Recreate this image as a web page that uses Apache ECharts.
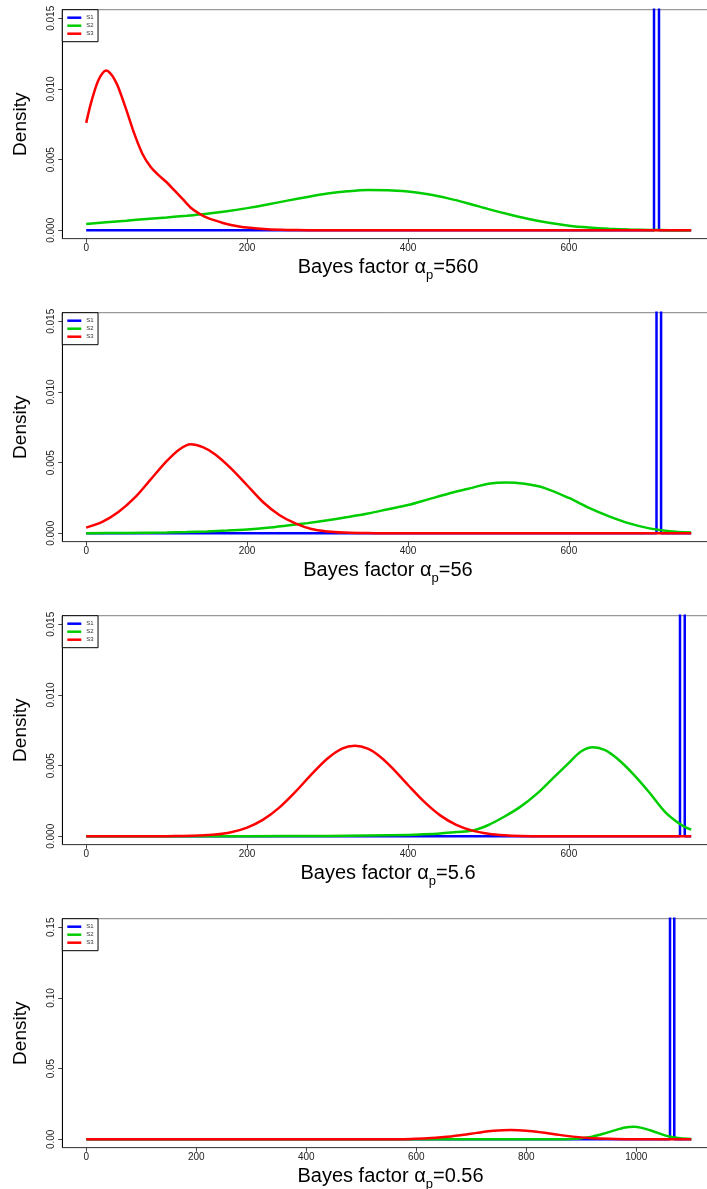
<!DOCTYPE html>
<html><head><meta charset="utf-8">
<script src="https://cdn.jsdelivr.net/npm/echarts@6/dist/echarts.min.js"></script>
<style>html,body{margin:0;padding:0;background:#fff}#c{width:707px;height:1189px}</style>
</head><body><div id="c"></div>
<script>
// ---- data ----
const seriesNames = ['S1', 'S2', 'S3'];
const seriesColors = ['#0000ff', '#00cd00', '#ff0000'];
const alphaLabels = ['560', '56', '5.6', '0.56'];
const xTicks = [[0, 200, 400, 600], [0, 200, 400, 600], [0, 200, 400, 600], [0, 200, 400, 600, 800, 1000]];
const yTicks = [[0, 0.005, 0.010, 0.015], [0, 0.005, 0.010, 0.015], [0, 0.005, 0.010, 0.015], [0, 0.05, 0.10, 0.15]];
const yTickDigits = [3, 3, 3, 2];

// panel 1 (alpha_p = 560)
const p1_S1 = [[0,0],[705.8,0],[708.9,5],[712,0],[752,0]];
const p1_S2 = [[0,0.00045],[25,0.00057],[50,0.00068],[75,0.0008],[100,0.00091],[125,0.00103],[150,0.00117],[175,0.00135],[200,0.00157],[225,0.00182],[250,0.0021],[275,0.00236],[300,0.0026],[325,0.00276],[350,0.00285],[375,0.00284],[400,0.00274],[425,0.00255],[450,0.00226],[475,0.0019],[500,0.0015],[525,0.00113],[550,0.0008],[575,0.00053],[600,0.00033],[625,0.0002],[650,0.00011],[675,0.00005],[700,0.00002],[725,0.00001],[752,0]];
const p1_S3 = [[0,0.0076],[5,0.0088],[10,0.0098],[15,0.0106],[20,0.0111],[25,0.0113],[30,0.0111],[35,0.0107],[40,0.0101],[50,0.0085],[60,0.0068],[70,0.0054],[80,0.0045],[90,0.0039],[100,0.0034],[110,0.0028],[120,0.0022],[130,0.0016],[140,0.0012],[150,0.0009],[160,0.0007],[170,0.00052],[180,0.00038],[190,0.00027],[200,0.00019],[225,0.00008],[250,0.00003],[275,0.00001],[300,0],[752,0]];

// panel 2 (alpha_p = 56)
const p2_S1 = [[0,0],[708.9,0],[711.8,5],[714.6,0],[752,0]];
const p2_S2 = [[0,0.00001],[50,0.00003],[100,0.00006],[125,0.00009],[150,0.00013],[175,0.00019],[200,0.00027],[225,0.00039],[250,0.00055],[275,0.00072],[300,0.00092],[325,0.00115],[350,0.0014],[375,0.0017],[400,0.002],[425,0.0024],[450,0.0028],[475,0.00315],[500,0.0035],[522,0.0036],[545,0.0035],[570,0.0032],[600,0.0025],[625,0.0018],[650,0.0012],[675,0.0007],[700,0.00035],[725,0.00015],[752,0.00005]];
const p2_S3 = [[0,0.0004],[20,0.0008],[40,0.0015],[60,0.0025],[80,0.0038],[100,0.0051],[115,0.0059],[130,0.0063],[145,0.0061],[160,0.0056],[180,0.0046],[200,0.0034],[220,0.0022],[240,0.0013],[260,0.0007],[280,0.0003],[300,0.00013],[320,0.00005],[340,0.00002],[360,0.00001],[380,0],[752,0]];

// panel 3 (alpha_p = 5.6)
const p3_S1 = [[0,0],[738.1,0],[741,5],[744,0],[752,0]];
const p3_S2 = [[0,0],[200,0.00001],[300,0.00003],[400,0.0001],[420,0.00014],[440,0.0002],[460,0.0003],[480,0.0004],[500,0.0008],[520,0.0014],[540,0.0021],[560,0.003],[580,0.0041],[600,0.0052],[615,0.006],[630,0.0063],[645,0.0061],[660,0.0055],[680,0.0044],[700,0.0031],[720,0.0017],[740,0.0008],[752,0.00047]];
const p3_S3 = [[0,0],[100,0.00001],[120,0.00002],[140,0.00005],[160,0.00012],[180,0.00029],[200,0.00062],[220,0.00118],[240,0.00203],[260,0.00314],[280,0.00438],[300,0.0055],[318,0.0062],[334,0.0064],[350,0.0062],[365,0.00565],[380,0.00486],[400,0.00363],[420,0.00245],[440,0.00148],[460,0.00081],[480,0.0004],[500,0.00018],[520,0.00007],[540,0.00002],[560,0.00001],[580,0],[752,0]];

// panel 4 (alpha_p = 0.56)
const p4_S1 = [[0,0],[1061.3,0],[1065.2,50],[1069.1,0],[1100,0]];
const p4_S2 = [[0,0],[800,0],[840,0.00001],[860,0.00005],[880,0.00025],[900,0.00077],[920,0.0019],[940,0.0039],[960,0.0063],[980,0.0083],[995,0.0088],[1010,0.0081],[1025,0.0064],[1040,0.0044],[1060,0.002],[1080,0.0007],[1100,0.0002]];
const p4_S3 = [[0,0],[470,0],[500,0.00001],[530,0.00003],[560,0.00009],[590,0.00027],[620,0.00071],[650,0.00157],[680,0.00292],[710,0.00455],[740,0.00598],[772,0.0066],[800,0.00612],[830,0.00477],[860,0.00313],[890,0.00172],[920,0.0008],[950,0.00031],[980,0.0001],[1010,0.00003],[1040,0.00001],[1070,0],[1100,0]];

const panelData = [[p1_S1, p1_S2, p1_S3], [p2_S1, p2_S2, p2_S3], [p3_S1, p3_S2, p3_S3], [p4_S1, p4_S2, p4_S3]];

// ---- layout ----
const panelTop = [9.7, 312.7, 615.7, 918.7];
const panelHeight = 229;
const gridLeft = 62.3;
const xMin = [-29.7, -29.7, -29.7, -43.6];
const xMax = [780, 780, 780, 1150];
const xPxPerUnit = [0.8045, 0.8045, 0.8045, 0.55];
const yMin = [-0.000594, -0.000594, -0.000594, -0.00594];
const yMax = [0.015608, 0.015608, 0.015608, 0.15608];
const FONT = 'Liberation Sans';

const grid = [], xAxis = [], yAxis = [], series = [], legend = [];
for (let i = 0; i < 4; i++) {
  grid.push({
    left: gridLeft, top: panelTop[i],
    width: (xMax[i] - xMin[i]) * xPxPerUnit[i], height: panelHeight,
    show: true, borderColor: '#808080', borderWidth: 1, backgroundColor: 'transparent',
    containLabel: false, outerBoundsMode: 'none'
  });
  xAxis.push({
    type: 'value', gridIndex: i, min: xMin[i], max: xMax[i],
    axisLine: { show: true, onZero: false, lineStyle: { color: '#444', width: 1 } },
    axisTick: { show: true, length: 4, customValues: xTicks[i], lineStyle: { color: '#444' } },
    axisLabel: { customValues: xTicks[i], fontSize: 10, color: '#222', margin: 5, fontFamily: FONT,
      formatter: v => String(Math.round(v)) },
    splitLine: { show: false },
    name: '{a|Bayes factor α}{s|p}{a|=' + alphaLabels[i] + '}',
    nameLocation: 'middle', nameGap: 19,
    nameTextStyle: {
      fontFamily: FONT, color: '#000',
      rich: {
        a: { fontSize: 20, lineHeight: 20, verticalAlign: 'top', fontFamily: FONT, color: '#000' },
        s: { fontSize: 13, lineHeight: 13, verticalAlign: 'top', padding: [11, 0, 0, 0], fontFamily: FONT, color: '#000' }
      }
    }
  });
  const dg = yTickDigits[i];
  yAxis.push({
    type: 'value', gridIndex: i, min: yMin[i], max: yMax[i],
    axisLine: { show: true, onZero: false, lineStyle: { color: '#000', width: 1 } },
    axisTick: { show: true, length: 4, customValues: yTicks[i], lineStyle: { color: '#444' } },
    axisLabel: { customValues: yTicks[i], rotate: 90, fontSize: 10, color: '#222', margin: 6, fontFamily: FONT,
      formatter: v => Number(v).toFixed(dg) },
    splitLine: { show: false },
    name: 'Density', nameLocation: 'middle', nameRotate: 90, nameGap: 32,
    nameTextStyle: { fontSize: 19, color: '#000', fontFamily: FONT }
  });
  for (let k = 0; k < 3; k++) {
    series.push({
      type: 'line', name: seriesNames[k], xAxisIndex: i, yAxisIndex: i,
      data: panelData[i][k], showSymbol: false, symbol: 'none',
      smooth: k === 0 ? false : 0.3, clip: true, silent: true,
      lineStyle: { color: seriesColors[k], width: 2.5 },
      itemStyle: { color: seriesColors[k] },
      z: 2 + k
    });
  }
  legend.push({
    data: seriesNames, left: gridLeft, top: panelTop[i], orient: 'vertical',
    icon: 'rect', itemWidth: 14, itemHeight: 2.5, itemGap: 0,
    padding: [4, 4.4, 4, 5], backgroundColor: '#fff', borderColor: '#000', borderWidth: 1,
    textStyle: { fontSize: 6, lineHeight: 8, color: '#333', fontFamily: FONT },
    selectedMode: false, z: 10
  });
}

const chart = echarts.init(document.getElementById('c'), null, { renderer: 'canvas' });
chart.setOption({ animation: false, backgroundColor: '#fff', grid, xAxis, yAxis, series, legend });
</script>
</body></html>
